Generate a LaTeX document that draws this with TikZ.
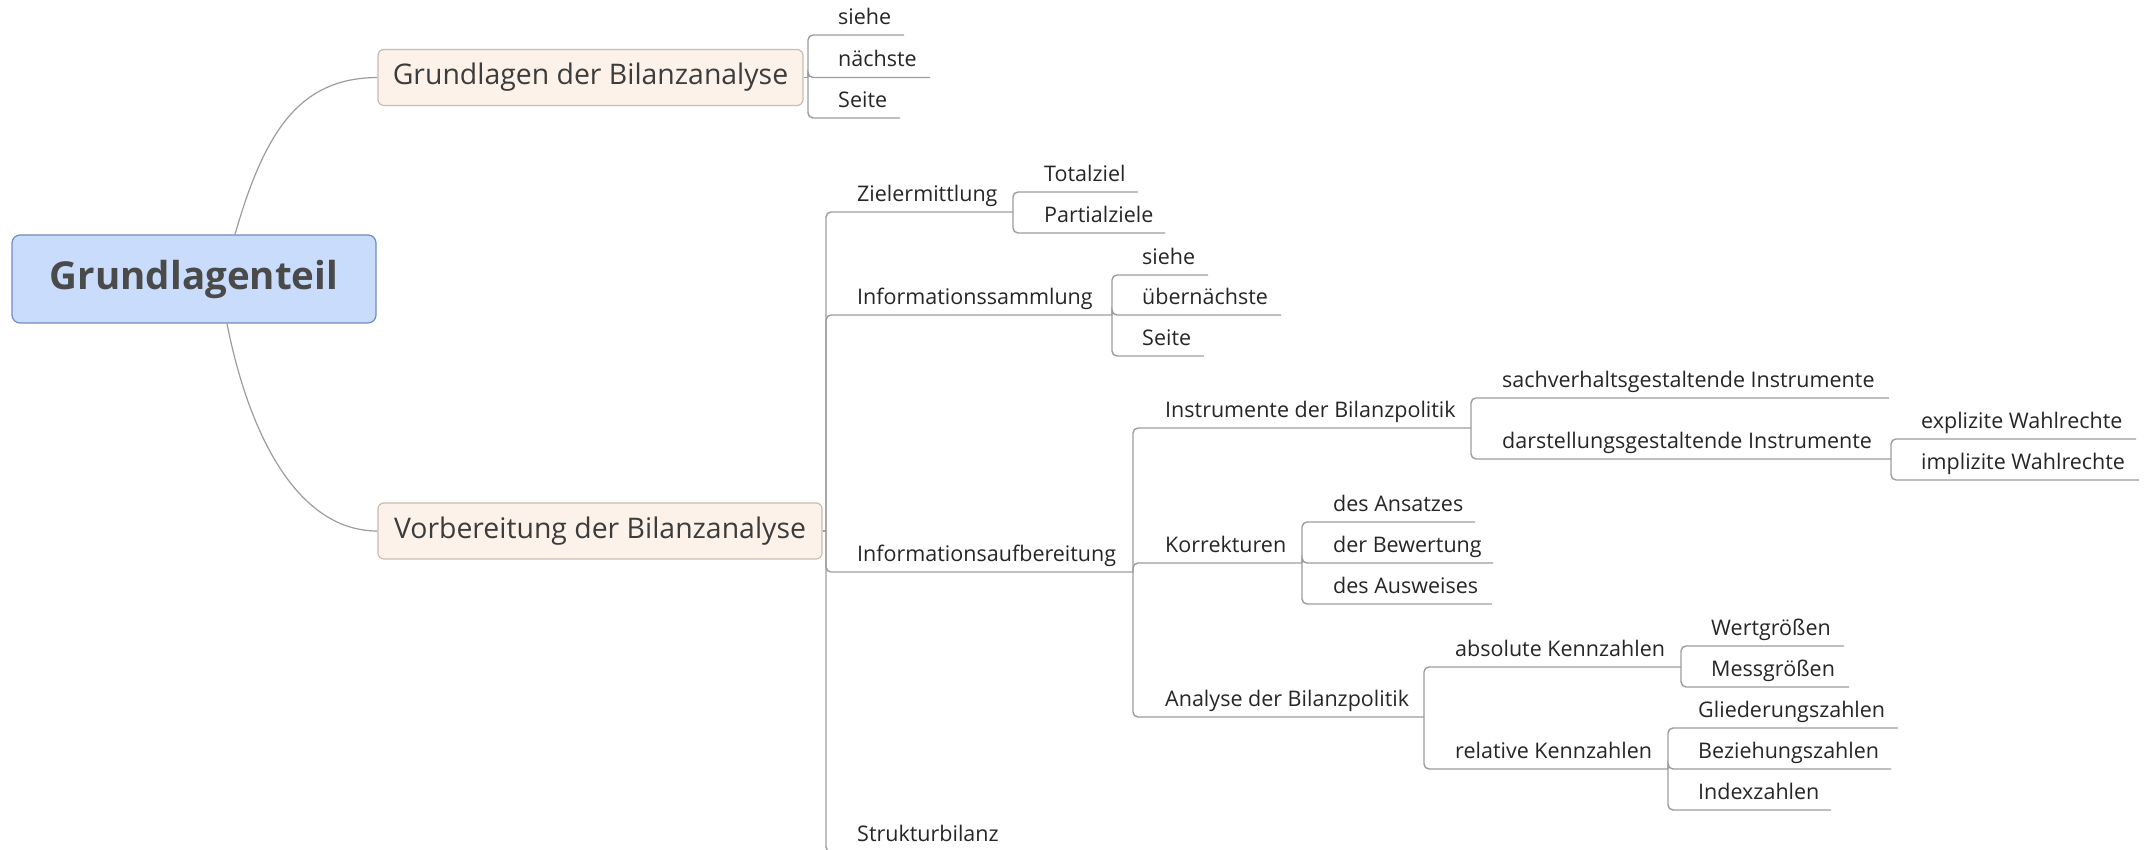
\documentclass[tikz,border=0pt]{standalone}
\usepackage{fontspec}
\setmainfont{Open Sans}
\definecolor{rootfill}{HTML}{C9DCFB}
\definecolor{rootdraw}{HTML}{6F8CC4}
\definecolor{roottext}{HTML}{4A4A4A}
\definecolor{mainfill}{HTML}{FDF2E9}
\definecolor{maindraw}{HTML}{C9BCB0}
\definecolor{linecol}{HTML}{9C9C9C}
\definecolor{txt}{HTML}{262626}
\tikzset{
  lbl/.style={anchor=base west, inner sep=0pt, text=txt, font=\fontsize{21.5}{26}\selectfont},
  conn/.style={draw=linecol, line width=1.4pt, rounded corners=5pt},
  curve/.style={draw=linecol, line width=1.2pt},
  rootbox/.style={draw=rootdraw, fill=rootfill, line width=1.2pt, rounded corners=8pt,
    minimum width=364pt, minimum height=88pt, inner sep=0pt, text=roottext,
    font=\fontsize{38.5}{46}\selectfont\bfseries},
  mainbox/.style={draw=maindraw, fill=mainfill, line width=1.2pt, rounded corners=6pt,
    minimum height=56pt, inner sep=0pt, text=txt!90,
    font=\fontsize{28.4}{34}\selectfont},
}
\newcommand\topic[5]{%
  \coordinate (#1-e) at (#3,#4);
  \node[lbl] (#1) at (#2,{#4-10.5}) {#5};
}
\begin{document}
\begin{tikzpicture}[x=1pt,y=-1pt]
\clip (0,0) rectangle (2149,850);
% main nodes
\node[rootbox] (root) at (194,279) {Grundlagenteil};
\node[mainbox, minimum width=425pt] (gb) at (590.5,77.5) {Grundlagen der Bilanzanalyse};
\node[mainbox, minimum width=444pt] (vb) at (600,531) {Vorbereitung der Bilanzanalyse};
% root curves
\draw[curve] ([xshift=41pt]root.north) .. controls (265,130) and (300,78) .. (gb.west);
\draw[curve] ([xshift=33pt]root.south) .. controls (250,440) and (300,531) .. (vb.west);
% junction coordinates for boxes
\coordinate (ja) at (808,77.5);
\coordinate (jv) at (826,531);
% topics
\topic{a1}{838}{904}{35}{siehe}
\topic{a2}{838}{930}{77.5}{nächste}
\topic{a3}{838}{900}{118}{Seite}
\topic{z}{857}{1013}{212}{Zielermittlung}
\topic{s}{857}{1112}{315}{Informationssammlung}
\topic{i}{857}{1133}{572}{Informationsaufbereitung}
\topic{k}{857}{1010}{852}{Strukturbilanz}
\topic{z1}{1044}{1138}{192}{Totalziel}
\topic{z2}{1044}{1165}{233}{Partialziele}
\topic{s1}{1142}{1208}{275}{siehe}
\topic{s2}{1142}{1281}{315}{übernächste}
\topic{s3}{1142}{1204}{356}{Seite}
\topic{i1}{1165}{1471}{428}{Instrumente der Bilanzpolitik}
\topic{i2}{1165}{1302}{563}{Korrekturen}
\topic{i3}{1165}{1424}{717}{Analyse der Bilanzpolitik}
\topic{n1}{1502}{1889}{398}{sachverhaltsgestaltende Instrumente}
\topic{n2}{1502}{1891}{459}{darstellungsgestaltende Instrumente}
\topic{w1}{1921}{2136}{439}{explizite Wahlrechte}
\topic{w2}{1921}{2139}{480}{implizite Wahlrechte}
\topic{k1}{1333}{1475}{522}{des Ansatzes}
\topic{k2}{1333}{1493}{563}{der Bewertung}
\topic{k3}{1333}{1492}{604}{des Ausweises}
\topic{b1}{1455}{1681}{667}{absolute Kennzahlen}
\topic{b2}{1455}{1668}{769}{relative Kennzahlen}
\topic{g1}{1711}{1844}{646}{Wertgrößen}
\topic{g2}{1711}{1849}{687}{Messgrößen}
\topic{r1}{1698}{1898}{728}{Gliederungszahlen}
\topic{r2}{1698}{1891}{769}{Beziehungszahlen}
\topic{r3}{1698}{1831}{810}{Indexzahlen}
% connectors
\draw[conn] (gb.east) -- (ja);
\foreach \c in {a1,a2,a3} \draw[conn] (ja) |- (\c-e);
\draw[conn] (vb.east) -- (jv);
\foreach \c in {z,s,i,k} \draw[conn] (jv) |- (\c-e);
\foreach \c in {z1,z2} \draw[conn] (z-e) |- (\c-e);
\foreach \c in {s1,s2,s3} \draw[conn] (s-e) |- (\c-e);
\foreach \c in {i1,i2,i3} \draw[conn] (i-e) |- (\c-e);
\foreach \c in {n1,n2} \draw[conn] (i1-e) |- (\c-e);
\foreach \c in {w1,w2} \draw[conn] (n2-e) |- (\c-e);
\foreach \c in {k1,k2,k3} \draw[conn] (i2-e) |- (\c-e);
\foreach \c in {b1,b2} \draw[conn] (i3-e) |- (\c-e);
\foreach \c in {g1,g2} \draw[conn] (b1-e) |- (\c-e);
\foreach \c in {r1,r2,r3} \draw[conn] (b2-e) |- (\c-e);
\end{tikzpicture}
\end{document}
